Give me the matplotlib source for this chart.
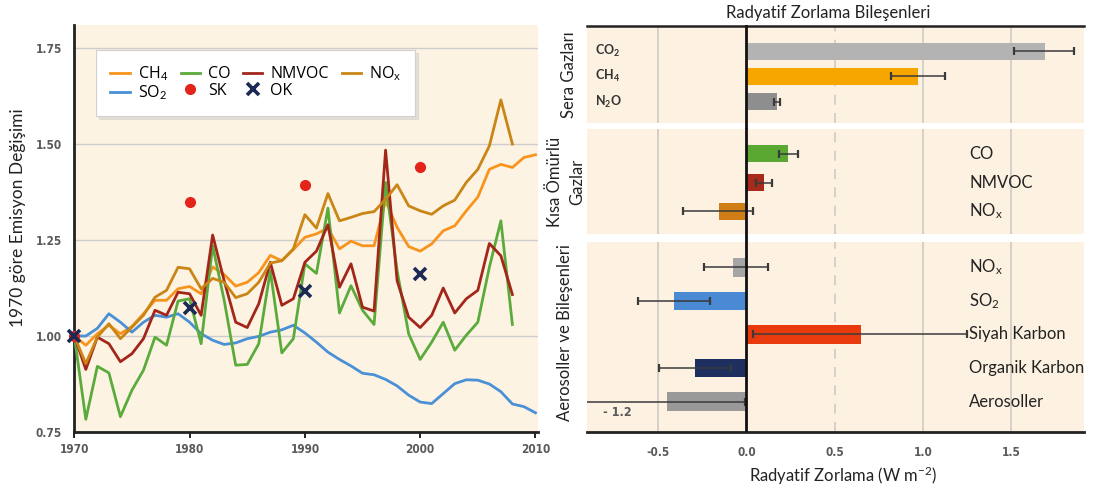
"""Emission change since 1970 (left) and radiative forcing components (right)."""
import matplotlib
matplotlib.use("Agg")
import matplotlib.pyplot as plt
import numpy as np

plt.rcParams["font.family"] = ["Lato", "DejaVu Sans"]
plt.rcParams["mathtext.fontset"] = "custom"
plt.rcParams["mathtext.rm"] = "Lato"
plt.rcParams["mathtext.it"] = "Lato:italic"
plt.rcParams["mathtext.bf"] = "Lato:bold"

# ---- left panel data: emissions relative to 1970 ----
YEARS = np.arange(1970, 2011)
CH4 = [1.00, 0.976, 1.006, 1.028, 1.006, 1.025, 1.058, 1.093, 1.093, 1.123,
       1.129, 1.11, 1.18, 1.16, 1.13, 1.14, 1.165, 1.21, 1.196, 1.225,
       1.257, 1.266, 1.281, 1.227, 1.247, 1.235, 1.235, 1.352, 1.283, 1.233,
       1.221, 1.24, 1.274, 1.287, 1.326, 1.362, 1.434, 1.447, 1.439, 1.465, 1.472]
SO2 = [1.00, 1.00, 1.02, 1.058, 1.036, 1.01, 1.036, 1.054, 1.049, 1.058,
       1.036, 1.006, 0.989, 0.978, 0.982, 0.993, 0.999, 1.01, 1.016, 1.028,
       1.008, 0.984, 0.958, 0.939, 0.922, 0.903, 0.899, 0.887, 0.87, 0.846,
       0.828, 0.824, 0.85, 0.876, 0.886, 0.885, 0.875, 0.855, 0.823, 0.816, 0.80]
CO = [1.00, 0.783, 0.921, 0.904, 0.79, 0.859, 0.911, 0.997, 0.976, 1.091,
      1.097, 0.98, 1.235, 1.093, 0.924, 0.926, 0.98, 1.17, 0.956, 0.993,
      1.188, 1.163, 1.333, 1.06, 1.131, 1.067, 1.03, 1.40, 1.17, 1.006,
      0.939, 0.984, 1.036, 0.963, 1.002, 1.036, 1.179, 1.30, 1.03]
NMVOC = [1.00, 0.913, 0.997, 0.98, 0.933, 0.954, 0.993, 1.067, 1.054, 1.114,
         1.11, 1.054, 1.263, 1.144, 1.036, 1.022, 1.084, 1.192, 1.08, 1.097,
         1.192, 1.221, 1.29, 1.127, 1.188, 1.075, 1.065, 1.484, 1.144, 1.049,
         1.022, 1.054, 1.125, 1.06, 1.097, 1.119, 1.241, 1.209, 1.108]
NOX = [1.00, 0.928, 0.997, 1.032, 0.993, 1.023, 1.054, 1.101, 1.119, 1.179,
       1.175, 1.123, 1.15, 1.14, 1.10, 1.11, 1.14, 1.19, 1.196, 1.227,
       1.316, 1.281, 1.371, 1.30, 1.309, 1.319, 1.324, 1.356, 1.394, 1.339,
       1.326, 1.317, 1.339, 1.354, 1.40, 1.434, 1.495, 1.615, 1.50]
SK_YEARS = [1970, 1980, 1990, 2000]
SK = [1.0, 1.348, 1.393, 1.439]
OK_YEARS = [1970, 1980, 1990, 2000]
OK = [1.0, 1.073, 1.117, 1.162]

# ---- right panel data: radiative forcing (W m-2) ----
GHG_LABELS = [r"CO$_\mathbf{2}$", r"CH$_\mathbf{4}$", r"N$_\mathbf{2}$O"]
GHG_VALUES = [1.69, 0.973, 0.174]
GHG_LO = [1.516, 0.818, 0.158]
GHG_HI = [1.856, 1.124, 0.19]
SLG_LABELS = ["CO", "NMVOC", r"NO$_\mathregular{x}$"]
SLG_VALUES = [0.237, 0.101, -0.154]
SLG_LO = [0.184, 0.054, -0.361]
SLG_HI = [0.292, 0.146, 0.035]
AER_LABELS = [r"NO$_\mathregular{x}$", r"SO$_\mathregular{2}$", "Siyah Karbon",
              "Organik Karbon", "Aerosoller"]
AER_VALUES = [-0.075, -0.409, 0.647, -0.292, -0.452]
AER_LO = [-0.239, -0.613, 0.035, -0.494, -1.2]
AER_HI = [0.124, -0.207, 1.247, -0.088, -0.008]

LEFT_BG = "#fdf3e2"
RIGHT_BG = "#fdf2e1"
TICK_FONT = dict(family=["DejaVu Sans"], stretch="condensed",
                 weight="bold", size=8.5, color="#5a5a5a")

W, H = 1095, 493
fig = plt.figure(figsize=(W / 100, H / 100), dpi=100)


def px(x0, y0, x1, y1):
    return [x0 / W, 1 - y1 / H, (x1 - x0) / W, (y1 - y0) / H]


# ================= left chart =================
ax = fig.add_axes(px(74.3, 25, 538, 432))
ax.set_facecolor(LEFT_BG)
ax.plot(YEARS, CH4, color="#f7941d", lw=2, label=r"CH$_4$", zorder=3)
ax.plot(YEARS, SO2, color="#4a90d6", lw=2, label=r"SO$_2$", zorder=3)
ax.plot(YEARS[:len(CO)], CO, color="#5aab3c", lw=2, label="CO", zorder=3)
ax.plot(SK_YEARS, SK, "o", color="#e3241b", ms=7, label="SK", zorder=4,
        clip_on=False)
ax.plot(YEARS[:len(NMVOC)], NMVOC, color="#a3261b", lw=2, label="NMVOC",
        zorder=3)
ax.plot(OK_YEARS, OK, "x", color="#1b2a55", ms=9, mew=2.6, label="OK",
        zorder=5, clip_on=False)
ax.plot(YEARS[:len(NOX)], NOX, color="#c98516", lw=2,
        label=r"NO$_\mathregular{x}$", zorder=3)

ax.set_xlim(1970, 2010.22)
ax.set_ylim(0.75, 1.81)
ax.set_xticks(np.arange(1970, 2011, 10))
ax.set_yticks([0.75, 1.00, 1.25, 1.50, 1.75])
ax.set_yticklabels(["0.75", "1.00", "1.25", "1.50", "1.75"])
for lab in ax.get_xticklabels() + ax.get_yticklabels():
    lab.set(**TICK_FONT)
ax.tick_params(axis="y", length=0, pad=9)
ax.tick_params(axis="x", length=4, width=1.2, pad=4)
for y in [1.0, 1.25, 1.5, 1.75]:
    ax.axhline(y, color="#cdcdcd", lw=1, zorder=1)
for side in ["top", "right"]:
    ax.spines[side].set_visible(False)
for side in ["left", "bottom"]:
    ax.spines[side].set_linewidth(2)
    ax.spines[side].set_color("#222222")

leg = ax.legend(ncol=4, loc="upper left", bbox_to_anchor=(0.047, 0.939),
                borderaxespad=0, frameon=True, fancybox=False,
                shadow={"color": "0.8", "alpha": 0.5, "ox": 2, "oy": -2},
                prop=dict(family=["Open Sans", "DejaVu Sans"], size=11.5),
                handlelength=1.2, handletextpad=0.5, columnspacing=0.8,
                labelspacing=0.05, borderpad=0.9)
leg.get_frame().set_edgecolor("#d0d0d0")
leg.get_frame().set_linewidth(0.8)

fig.text(18 / W, 1 - 218 / H, "1970 göre Emisyon Değişimi", rotation=90,
         ha="center", va="center", fontsize=12.5, color="#222222")

# ================= right chart =================
XLIM = (-0.903, 1.911)


def forcing_panel(rect, labels, values, lo, hi, colors, ylim, bar_h):
    a = fig.add_axes(rect)
    a.set_facecolor(RIGHT_BG)
    pos = np.arange(len(values))
    a.barh(pos, values, height=bar_h, color=colors, zorder=2)
    vals = np.array(values)
    err = [vals - np.array(lo), np.array(hi) - vals]
    a.errorbar(vals, pos, xerr=err, fmt="none", ecolor="#3a3a3a",
               elinewidth=1.1, capsize=3, capthick=1.6, zorder=3)
    for xg in [-0.5, 1.0, 1.5]:
        a.axvline(xg, color="#cfcbc4", lw=1.2, zorder=1)
    a.axvline(0.5, color="#cfcbc4", lw=1.2, ls=(0, (6, 5)), zorder=1)
    a.set_xlim(*XLIM)
    a.set_ylim(*ylim)
    a.set_yticks([])
    a.set_xticks([])
    for s in a.spines.values():
        s.set_visible(False)
    return a, pos


# greenhouse gases
a1, pos1 = forcing_panel(px(587, 26, 1084, 123), GHG_LABELS, GHG_VALUES,
                         GHG_LO, GHG_HI, ["#b3b3b3", "#f7a600", "#8e8e8e"],
                         (2.85, -1.0), 0.69)
a1.spines["top"].set_visible(True)
a1.spines["top"].set_linewidth(1.8)
a1.spines["top"].set_color("#222222")
a1.axvline(0, ymin=-0.07, ymax=1, color="#111111", lw=2, zorder=4,
           clip_on=False)
for p, lab in zip(pos1, GHG_LABELS):
    a1.text(-0.858, p, lab, ha="left", va="center", fontsize=9,
            fontweight="bold", color="#333333")

# short-lived gases
a2, pos2 = forcing_panel(px(587, 129, 1084, 234), SLG_LABELS, SLG_VALUES,
                         SLG_LO, SLG_HI, ["#5aa832", "#a82a1a", "#cf7d14"],
                         (2.79, -0.86), 0.6)
a2.axvline(0, ymin=-0.08, ymax=1, color="#111111", lw=2, zorder=4,
           clip_on=False)
for p, lab in zip(pos2, SLG_LABELS):
    a2.text(1.26, p, lab, ha="left", va="center", fontsize=12,
            color="#222222")

# aerosols
a3, pos3 = forcing_panel(px(587, 242, 1084, 432), AER_LABELS, AER_VALUES,
                         AER_LO, AER_HI,
                         ["#a6a6a6", "#4a8ad4", "#e83a0c", "#1c2f5e",
                          "#999999"],
                         (4.91, -0.76), 0.54)
a3.axvline(0, color="#111111", lw=2, zorder=4)
a3.spines["bottom"].set_visible(True)
a3.spines["bottom"].set_linewidth(2)
a3.spines["bottom"].set_color("#222222")
a3.set_xticks([-0.5, 0.0, 0.5, 1.0, 1.5])
a3.set_xticklabels(["-0.5", "0.0", "0.5", "1.0", "1.5"])
for lab in a3.get_xticklabels():
    lab.set(**TICK_FONT)
a3.tick_params(axis="x", length=0, pad=10)
for p, lab in zip(pos3, AER_LABELS):
    a3.text(1.26, p, lab, ha="left", va="center", fontsize=12,
            color="#222222")
a3.text(-0.73, pos3[-1] + 0.33, "- 1.2", ha="center", va="center",
        fontsize=9, fontweight="bold", color="#5a5a5a",
        family=["DejaVu Sans"], stretch="condensed")

# panel group labels
fig.text(569 / W, 1 - 75 / H, "Sera Gazları", rotation=90, ha="center",
         va="center", fontsize=12, color="#222222")
fig.text(566 / W, 1 - 182 / H, "Kısa Ömürlü\nGazlar", rotation=90,
         ha="center", va="center", fontsize=12, color="#222222",
         multialignment="center", linespacing=1.45)
fig.text(565 / W, 1 - 333 / H, "Aerosoller ve Bileşenleri", rotation=90,
         ha="center", va="center", fontsize=12, color="#222222")

fig.text(828 / W, 1 - 13 / H, "Radyatif Zorlama Bileşenleri", ha="center",
         va="center", fontsize=12, color="#222222")
fig.text(843 / W, 1 - 476 / H, "Radyatif Zorlama (W m$^{-2}$)", ha="center",
         va="center", fontsize=12, color="#222222")

fig.savefig("out.png", dpi=100, facecolor="white")
